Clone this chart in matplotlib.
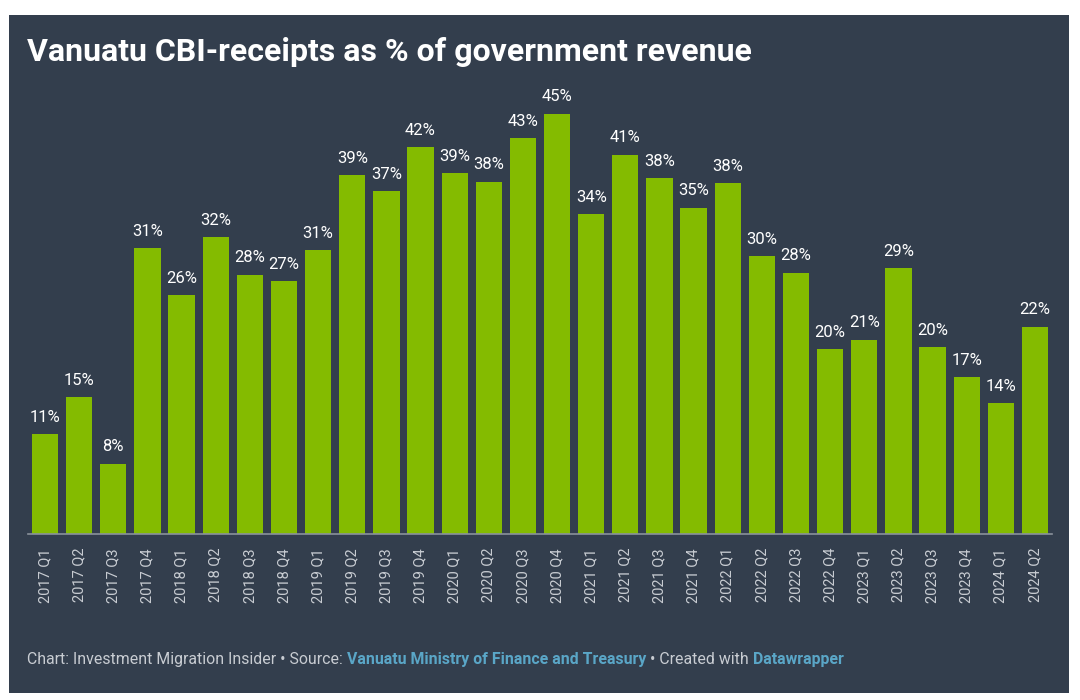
import matplotlib.pyplot as plt
from matplotlib.patches import Rectangle

# Quarterly CBI receipts as share of government revenue (%)
quarters = ["2017 Q1", "2017 Q2", "2017 Q3", "2017 Q4",
            "2018 Q1", "2018 Q2", "2018 Q3", "2018 Q4",
            "2019 Q1", "2019 Q2", "2019 Q3", "2019 Q4",
            "2020 Q1", "2020 Q2", "2020 Q3", "2020 Q4",
            "2021 Q1", "2021 Q2", "2021 Q3", "2021 Q4",
            "2022 Q1", "2022 Q2", "2022 Q3", "2022 Q4",
            "2023 Q1", "2023 Q2", "2023 Q3", "2023 Q4",
            "2024 Q1", "2024 Q2"]
# bar heights (labels shown rounded)
shares = [10.75, 14.7, 7.55, 30.7, 25.7, 31.9, 27.9, 27.2, 30.55, 38.6,
          36.9, 41.6, 38.8, 37.9, 42.6, 45.2, 34.4, 40.8, 38.25, 35.1,
          37.7, 29.9, 28.1, 19.9, 20.9, 28.6, 20.1, 16.9, 14.1, 22.3]

BG = "#333e4d"
GREEN = "#84bb00"
LINK = "#5aa6c7"
FOOT = "#c8ccd2"

plt.rcParams['font.family'] = ['Roboto', 'DejaVu Sans']

W, H = 1080, 700
fig = plt.figure(figsize=(W / 100, H / 100), dpi=100, facecolor="white")

# dark card behind the chart
fig.patches.append(Rectangle((9 / W, 1 - 693 / H), 1060 / W, 678 / H,
                             transform=fig.transFigure, facecolor=BG,
                             edgecolor="none", zorder=-5))

# axes placed in pixel terms
left, right = 28, 1052
base, top = 534, 534 - 50 * 9.3
ax = fig.add_axes([left / W, 1 - base / H, (right - left) / W, (base - top) / H])
ax.set_facecolor("none")
ax.set_zorder(2)

x = range(len(quarters))
ax.bar(x, shares, width=0.77, color=GREEN, zorder=2)
for i, v in enumerate(shares):
    ax.text(i, v + 1.0, f"{v:.0f}%", ha="center", va="bottom",
            color="white", fontsize=12)

ax.set_xlim(-0.5, len(quarters) - 0.5)
ax.set_ylim(0, 50)
ax.set_xticks(list(x))
ax.set_xticklabels(quarters, rotation=90, color=FOOT, fontsize=10.5)
ax.tick_params(axis="x", length=0, pad=10)
ax.set_yticks([])
for s in ["top", "right", "left"]:
    ax.spines[s].set_visible(False)
ax.spines["bottom"].set_color("#8a919b")
ax.spines["bottom"].set_linewidth(1.2)

fig.text(27 / W, 1 - 52 / H, "Vanuatu CBI-receipts as % of government revenue",
         color="white", fontsize=23, fontweight="bold", va="center", ha="left")

# footer with inline link-coloured parts
parts = [("Chart: Investment Migration Insider \u2022 Source: ", FOOT, "normal"),
         ("Vanuatu Ministry of Finance and Treasury", LINK, "bold"),
         (" \u2022 Created with ", FOOT, "normal"),
         ("Datawrapper", LINK, "bold")]
prev = fig.text(27 / W, 1 - 667 / H, parts[0][0], color=parts[0][1],
                fontweight=parts[0][2], fontsize=11.45, va="bottom", ha="left")
for txt, col, wt in parts[1:]:
    prev = ax.annotate(txt, xy=(1, 0), xycoords=prev, va="bottom", ha="left",
                       color=col, fontweight=wt, fontsize=11.45,
                       annotation_clip=False)

fig.savefig("out.png", dpi=100, facecolor="white")
